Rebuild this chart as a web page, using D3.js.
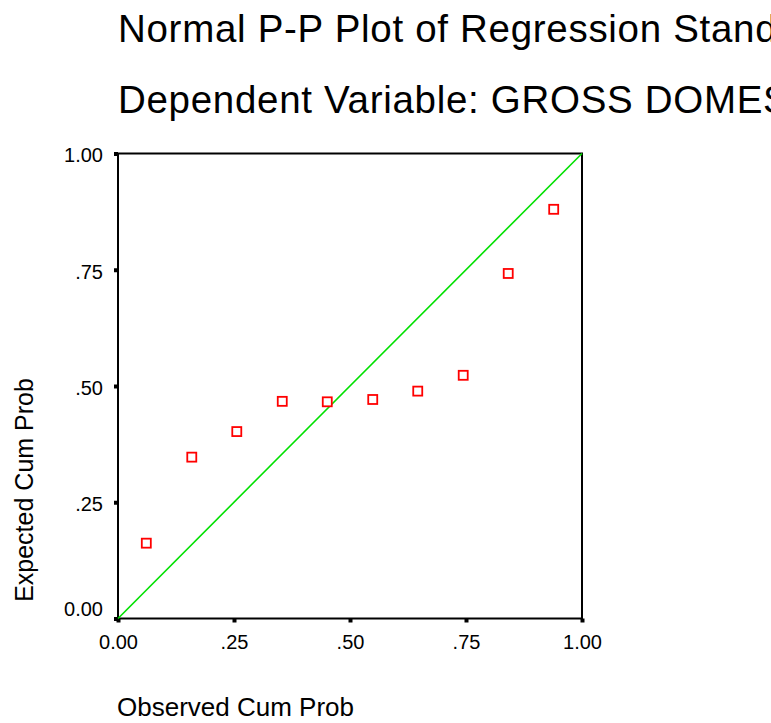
<!DOCTYPE html>
<html><head><meta charset="utf-8">
<script src="https://cdn.jsdelivr.net/npm/d3@7"></script>
<style>body{margin:0;background:#fff;overflow:hidden} svg{display:block}</style>
</head><body><svg id="c" width="771" height="723"></svg>
<script>
// Data
const observedCumProb = [0.061, 0.159, 0.256, 0.354, 0.451, 0.549, 0.646, 0.744, 0.841, 0.939];
const expectedCumProb = [0.162, 0.347, 0.402, 0.467, 0.466, 0.471, 0.489, 0.523, 0.742, 0.880];
const tickValues = [0, 0.25, 0.5, 0.75, 1];
const tickLabels = ["0.00", ".25", ".50", ".75", "1.00"];
const titleLines = ["Normal P-P Plot of Regression Standardized Residual", "Dependent Variable: GROSS DOMESTIC PRODUCT"];
const xTitle = "Observed Cum Prob";
const yTitle = "Expected Cum Prob";

const FONT = "'Liberation Sans', Arial, Helvetica, sans-serif";
const svg = d3.select("#c");
svg.append("rect").attr("width", 771).attr("height", 723).attr("fill", "#fff");

const x = d3.scaleLinear().domain([0, 1]).range([118, 582]);
const y = d3.scaleLinear().domain([0, 1]).range([618.5, 153.5]);

// Titles (cut by the right edge, as in the reference)
svg.append("text").attr("x", 118).attr("y", 42)
  .attr("font-family", FONT).attr("font-size", 38.5).attr("letter-spacing", 0.7)
  .attr("fill", "#000").text(titleLines[0]);
svg.append("text").attr("x", 118).attr("y", 113)
  .attr("font-family", FONT).attr("font-size", 38.5).attr("letter-spacing", 0.7)
  .attr("fill", "#000").text(titleLines[1]);

// Frame
svg.append("rect").attr("x", x(0)).attr("y", y(1))
  .attr("width", x(1) - x(0)).attr("height", y(0) - y(1))
  .attr("fill", "none").attr("stroke", "#000").attr("stroke-width", 2);

// Axes
const fmt = d => tickLabels[tickValues.indexOf(d)];
const yAxis = d3.axisLeft(y).tickValues(tickValues).tickFormat(fmt).tickSize(4).tickPadding(11);
const xAxis = d3.axisBottom(x).tickValues(tickValues).tickFormat(fmt).tickSize(4).tickPadding(12.3);

const gy = svg.append("g").attr("transform", `translate(${x(0)},0)`).call(yAxis);
const gx = svg.append("g").attr("transform", `translate(0,${y(0)})`).call(xAxis);
[gx, gy].forEach(g => {
  g.select(".domain").remove();
  g.selectAll(".tick line").attr("stroke", "#000").attr("stroke-width", 4);
  g.selectAll(".tick text").attr("font-family", FONT).attr("font-size", 20).attr("fill", "#000");
});
gy.selectAll(".tick text").attr("dy", "0.42em");
gy.selectAll(".tick").filter(d => d === 0).select("text").attr("dy", "-0.17em");

// Reference diagonal
svg.append("line")
  .attr("x1", x(0)).attr("y1", y(0)).attr("x2", x(1)).attr("y2", y(1))
  .attr("stroke", "#00e000").attr("stroke-width", 1.6);

// Points
const pts = observedCumProb.map((o, i) => ({o, e: expectedCumProb[i]}));
svg.append("g").selectAll("rect").data(pts).join("rect")
  .attr("x", d => x(d.o) - 4.5).attr("y", d => y(d.e) - 4.5)
  .attr("width", 9).attr("height", 9)
  .attr("fill", "#fff").attr("stroke", "#ff0000").attr("stroke-width", 1.8);

// Axis titles
svg.append("text").attr("x", 117).attr("y", 716)
  .attr("font-family", FONT).attr("font-size", 26).attr("fill", "#000").text(xTitle);
svg.append("text").attr("transform", "translate(33,490) rotate(-90)")
  .attr("text-anchor", "middle")
  .attr("font-family", FONT).attr("font-size", 25)
  .attr("fill", "#000")
  .text(yTitle);
</script>
</body></html>
